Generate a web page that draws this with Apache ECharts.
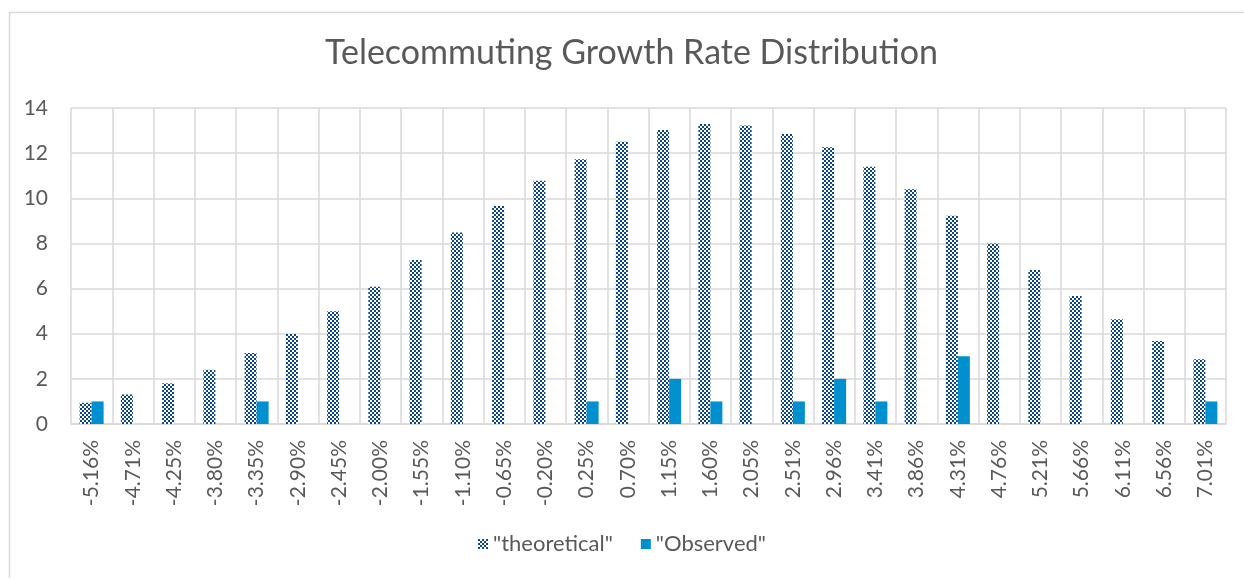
<!DOCTYPE html>
<html>
<head>
<meta charset="utf-8">
<script src="https://cdn.jsdelivr.net/npm/echarts@6/dist/echarts.min.js"></script>
<style>
  html, body { margin: 0; padding: 0; background: #fff; }
  #chart { width: 1244px; height: 578px; }
</style>
</head>
<body>
<div id="chart"></div>
<script>
// Growth-rate bins (x axis)
const categories = ['-5.16%','-4.71%','-4.25%','-3.80%','-3.35%','-2.90%','-2.45%','-2.00%','-1.55%','-1.10%',
  '-0.65%','-0.20%','0.25%','0.70%','1.15%','1.60%','2.05%','2.51%','2.96%','3.41%',
  '3.86%','4.31%','4.76%','5.21%','5.66%','6.11%','6.56%','7.01%'];

// Expected counts from the fitted distribution
const theoretical = [0.94, 1.31, 1.80, 2.40, 3.15, 3.99, 5.00, 6.08, 7.27, 8.48,
  9.66, 10.78, 11.73, 12.51, 13.03, 13.29, 13.23, 12.85, 12.26, 11.40,
  10.40, 9.23, 8.00, 6.82, 5.67, 4.64, 3.68, 2.87];

// Counted observations per bin
const observed = [1, 0, 0, 0, 1, 0, 0, 0, 0, 0,
  0, 0, 1, 0, 2, 1, 0, 1, 2, 1,
  0, 3, 0, 0, 0, 0, 0, 1];

const yTicks = { min: 0, max: 14, interval: 2 };

// Small checkerboard tile used as the fill of the theoretical bars
function checkerTile() {
  const c = document.createElement('canvas');
  c.width = 4; c.height = 4;
  const g = c.getContext('2d');
  g.fillStyle = '#ffffff';
  g.fillRect(0, 0, 4, 4);
  g.fillStyle = '#0a4682';
  g.fillRect(0, 0, 2, 2);
  g.fillRect(2, 2, 2, 2);
  return c;
}
const checker = { image: checkerTile(), repeat: 'repeat' };

const textColor = '#595959';
const gridColor = '#d9d9d9';
const fontFamily = 'Lato, "Open Sans", sans-serif';

const chart = echarts.init(document.getElementById('chart'), null, { renderer: 'canvas' });
chart.setOption({
  animation: false,
  backgroundColor: '#ffffff',
  textStyle: { fontFamily: fontFamily },
  graphic: [{
    type: 'rect',
    left: 7, top: 10,
    shape: { width: 1400, height: 700 },
    style: { fill: 'none', stroke: gridColor, lineWidth: 1.5 },
    silent: true
  }],
  title: {
    text: 'Telecommuting Growth Rate Distribution',
    left: 320,
    top: 31,
    textStyle: { color: textColor, fontSize: 34, fontWeight: 'normal', fontFamily: fontFamily }
  },
  legend: {
    bottom: 18,
    left: 'center',
    icon: 'rect',
    itemWidth: 10,
    itemHeight: 10,
    itemGap: 28,
    textStyle: { color: textColor, fontSize: 22, fontFamily: fontFamily },
    data: ['"theoretical"', '"Observed"']
  },
  grid: { left: 71, right: 18, top: 108, bottom: 154, containLabel: false },
  xAxis: {
    type: 'category',
    data: categories,
    boundaryGap: true,
    axisLine: { show: true, lineStyle: { color: gridColor, width: 1.5 } },
    axisTick: { show: false },
    splitLine: { show: true, lineStyle: { color: gridColor, width: 1.5 } },
    axisLabel: { rotate: 90, interval: 0, color: textColor, fontSize: 21, margin: 16, fontFamily: fontFamily }
  },
  yAxis: {
    type: 'value',
    min: yTicks.min,
    max: yTicks.max,
    interval: yTicks.interval,
    axisLine: { show: false },
    axisTick: { show: false },
    splitLine: { show: true, lineStyle: { color: gridColor, width: 1.5 } },
    axisLabel: { color: textColor, fontSize: 21, margin: 23, fontFamily: fontFamily }
  },
  series: [
    {
      name: '"theoretical"',
      type: 'bar',
      data: theoretical,
      barWidth: 12,
      barGap: '0%',
      itemStyle: { color: checker }
    },
    {
      name: '"Observed"',
      type: 'bar',
      data: observed,
      barWidth: 12,
      itemStyle: { color: '#0090d0' }
    }
  ]
});
</script>
</body>
</html>
